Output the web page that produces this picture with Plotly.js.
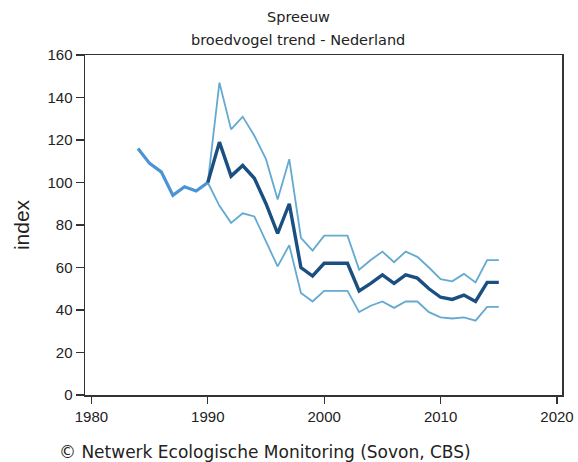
<!DOCTYPE html>
<html>
<head>
<meta charset="utf-8">
<script src="https://cdn.plot.ly/plotly-3.0.1.min.js"></script>
<style>html,body{margin:0;padding:0;background:#fff;}#chart{width:578px;height:462px;}</style>
</head>
<body>
<div id="chart"></div>
<script>
// Pre-1990 index (no confidence band)
const yearsPre = [1984, 1985, 1986, 1987, 1988, 1989, 1990];
const indexPre = [116, 109, 105, 94, 98, 96, 100];

// Trend from 1990 with confidence limits
const years = [1990, 1991, 1992, 1993, 1994, 1995, 1996, 1997, 1998, 1999, 2000, 2001, 2002,
               2003, 2004, 2005, 2006, 2007, 2008, 2009, 2010, 2011, 2012, 2013, 2014, 2015];
const trend = [100, 119, 103, 108, 102, 90, 76, 90, 60, 56, 62, 62, 62,
               49, 52.5, 56.5, 52.5, 56.5, 55, 50, 46, 45, 47, 44, 53, 53];
const upper = [100, 147, 125, 131, 122, 111, 92, 111, 74, 68, 75, 75, 75,
               59, 63.5, 67.5, 62.5, 67.5, 65, 60, 54.5, 53.5, 57, 53, 63.5, 63.5];
const lower = [100, 89, 81, 85.5, 84, 72, 60.5, 70.5, 48, 44, 49, 49, 49,
               39, 42, 44, 41, 44, 44, 39, 36.5, 36, 36.5, 35, 41.5, 41.5];

const xTicks = [1980, 1990, 2000, 2010, 2020];
const yTicks = [0, 20, 40, 60, 80, 100, 120, 140, 160];

const ciColor = '#63a9d1';
const traces = [
  {x: years, y: upper, mode: 'lines', line: {color: ciColor, width: 1.8}, hoverinfo: 'skip'},
  {x: years, y: lower, mode: 'lines', line: {color: ciColor, width: 1.8}, hoverinfo: 'skip'},
  {x: yearsPre, y: indexPre, mode: 'lines', line: {color: '#4a93d6', width: 3.2}},
  {x: years, y: trend, mode: 'lines', line: {color: '#1a4f80', width: 3.4}}
];

const tickFont = {family: 'Liberation Sans, Arial, sans-serif', size: 15, color: '#222'};
const textFont = {family: 'DejaVu Sans, Verdana, sans-serif', size: 14.5, color: '#222'};

const layout = {
  width: 578, height: 462,
  margin: {l: 85, r: 16, t: 55, b: 67},
  paper_bgcolor: '#fff', plot_bgcolor: '#fff',
  showlegend: false,
  xaxis: {
    range: [1979.45, 2020.43], tickvals: xTicks, ticktext: xTicks.map(String),
    ticks: 'outside', ticklen: 7, tickwidth: 1.2, tickcolor: '#333',
    showline: true, linecolor: '#333', linewidth: 1.5, mirror: true,
    showgrid: false, zeroline: false, tickfont: tickFont
  },
  yaxis: {
    range: [0, 160], tickvals: yTicks, ticktext: yTicks.map(String),
    ticks: 'outside', ticklen: 8, tickwidth: 1.2, tickcolor: '#333',
    showline: true, linecolor: '#333', linewidth: 1.5, mirror: true,
    showgrid: false, zeroline: false, tickfont: tickFont,
    title: {text: 'index', font: {family: 'Liberation Sans, Arial, sans-serif', size: 21, color: '#222'}, standoff: 12}
  },
  annotations: [
    {text: 'Spreeuw', xref: 'paper', yref: 'paper', x: 0.447, y: 1.112, xanchor: 'center', yanchor: 'middle', showarrow: false, font: textFont},
    {text: 'broedvogel trend - Nederland', xref: 'paper', yref: 'paper', x: 0.447, y: 1.044, xanchor: 'center', yanchor: 'middle', showarrow: false, font: textFont},
    {text: '© Netwerk Ecologische Monitoring (Sovon, CBS)', xref: 'paper', yref: 'paper', x: -0.059, y: -0.168, xanchor: 'left', yanchor: 'middle', showarrow: false,
     font: {family: 'DejaVu Sans, Verdana, sans-serif', size: 17, color: '#222'}}
  ]
};

Plotly.newPlot('chart', traces, layout, {displayModeBar: false, staticPlot: true});
</script>
</body>
</html>
